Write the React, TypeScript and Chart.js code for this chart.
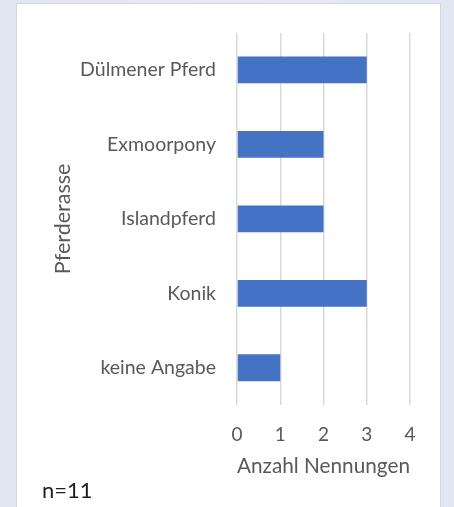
import React, { useEffect, useRef } from "react";
import { Chart, registerables } from "chart.js";

Chart.register(...registerables);

const categories = ["Dülmener Pferd", "Exmoorpony", "Islandpferd", "Konik", "keine Angabe"];
const counts = [3, 2, 2, 3, 1];
const xTicks = [0, 1, 2, 3, 4];
const xTitle = "Anzahl Nennungen";
const yTitle = "Pferderasse";
const note = "n=11";

const FONT = "Lato, 'Liberation Sans', sans-serif";
const GRAY = "#595959";

export default function App() {
  const ref = useRef<HTMLCanvasElement | null>(null);

  useEffect(() => {
    document.body.style.margin = "0";
    const ctx = ref.current;
    if (!ctx) return;
    const chart = new Chart(ctx, {
      type: "bar",
      data: {
        labels: categories,
        datasets: [
          {
            data: counts,
            backgroundColor: "#4472C4",
            borderWidth: 0,
            categoryPercentage: 1,
            barPercentage: 0.36,
          },
        ],
      },
      options: {
        indexAxis: "y",
        responsive: false,
        animation: false,
        layout: { padding: { left: 0, right: 44, top: 29, bottom: 0 } },
        plugins: { legend: { display: false }, tooltip: { enabled: false } },
        scales: {
          x: {
            min: 0,
            max: 4,
            afterFit: (s: any) => {
              s.height = 102;
            },
            afterBuildTicks: (s: any) => {
              s.ticks = xTicks.map((v) => ({ value: v }));
            },
            grid: { color: "#d9d9d9", lineWidth: 1.5, drawTicks: false },
            border: { display: false },
            ticks: { color: GRAY, padding: 18, font: { family: FONT, size: 19 } },
            title: {
              display: true,
              text: xTitle,
              color: GRAY,
              font: { family: FONT, size: 22 },
              padding: { top: 0, bottom: 28 },
            },
          },
          y: {
            afterFit: (s: any) => {
              s.width = 237;
            },
            grid: { display: false, drawTicks: false },
            border: { display: false },
            ticks: { color: GRAY, padding: 21, font: { family: FONT, size: 19.5 } },
            title: {
              display: true,
              text: yTitle,
              color: GRAY,
              font: { family: FONT, size: 21.5 },
              padding: { top: 50, bottom: 0 },
            },
          },
        },
      },
    });
    return () => chart.destroy();
  }, []);

  return (
    <div
      style={{
        position: "relative",
        width: 454,
        height: 507,
        overflow: "hidden",
        background: "linear-gradient(90deg, #e2e5f2 0%, #e8ebf6 50%, #e2e6f3 100%)",
      }}
    >
      <div
        style={{
          position: "absolute",
          left: 16,
          top: 3,
          width: 425,
          height: 510,
          background: "#ffffff",
          border: "1px solid #d4d6dc",
          boxSizing: "border-box",
        }}
      />
      <canvas ref={ref} width={454} height={507} style={{ position: "absolute", left: 0, top: 0 }} />
      <div
        style={{
          position: "absolute",
          left: 42,
          top: 477,
          fontFamily: FONT,
          fontSize: 22,
          color: "#1f1f1f",
          lineHeight: "26px",
        }}
      >
        {note}
      </div>
    </div>
  );
}
